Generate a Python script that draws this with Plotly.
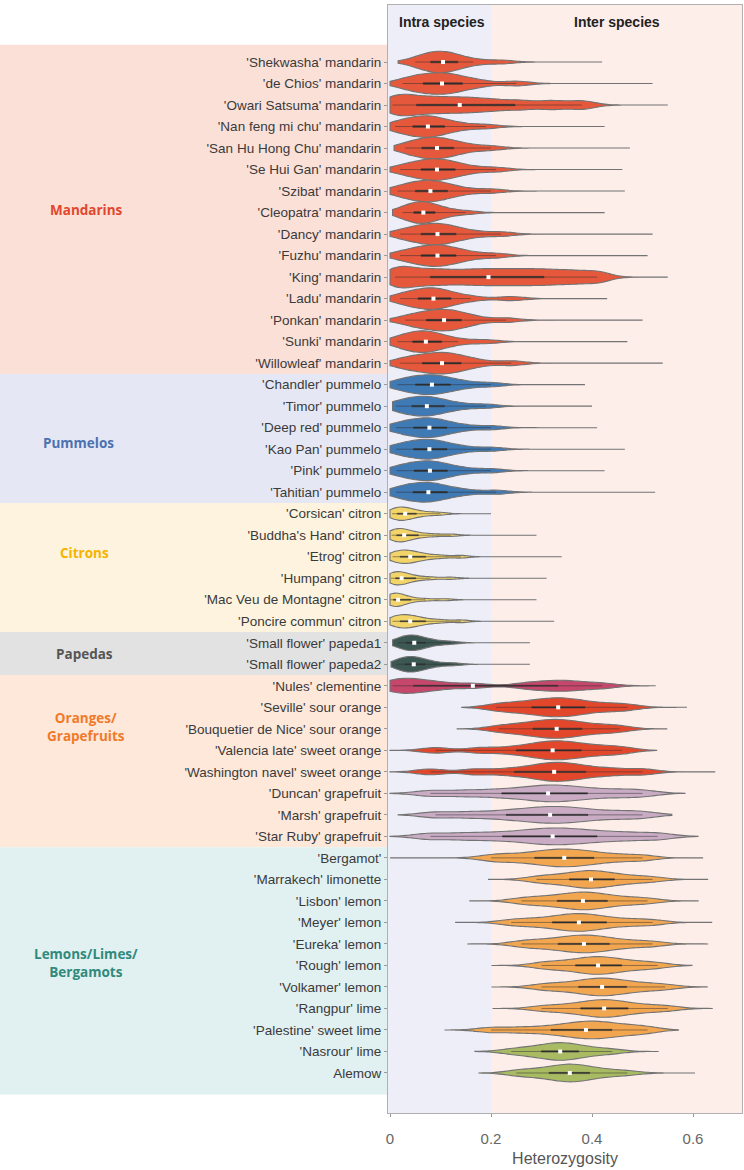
import plotly.graph_objects as go
import numpy as np

# ---------------- data ----------------
# each variety: quantile-like sample values (5%..95%) and observed range [min, max]
mandarin_names = ["'Shekwasha' mandarin", "'de Chios' mandarin", "'Owari Satsuma' mandarin",
                  "'Nan feng mi chu' mandarin", "'San Hu Hong Chu' mandarin", "'Se Hui Gan' mandarin",
                  "'Szibat' mandarin", "'Cleopatra' mandarin", "'Dancy' mandarin", "'Fuzhu' mandarin",
                  "'King' mandarin", "'Ladu' mandarin", "'Ponkan' mandarin", "'Sunki' mandarin",
                  "'Willowleaf' mandarin"]
mandarin_values = [
    [0.05, 0.065, 0.078, 0.088, 0.097, 0.105, 0.113, 0.123, 0.138, 0.165, 0.22],
    [0.025, 0.045, 0.062, 0.077, 0.09, 0.103, 0.116, 0.13, 0.148, 0.18, 0.25],
    [0.005, 0.02, 0.045, 0.075, 0.105, 0.138, 0.17, 0.21, 0.26, 0.32, 0.38],
    [0.01, 0.025, 0.042, 0.055, 0.066, 0.075, 0.085, 0.097, 0.112, 0.14, 0.19],
    [0.03, 0.045, 0.06, 0.072, 0.083, 0.093, 0.103, 0.115, 0.13, 0.155, 0.2],
    [0.02, 0.04, 0.058, 0.072, 0.083, 0.093, 0.104, 0.117, 0.133, 0.16, 0.21],
    [0.015, 0.03, 0.047, 0.06, 0.071, 0.08, 0.09, 0.102, 0.118, 0.145, 0.2],
    [0.025, 0.035, 0.045, 0.053, 0.06, 0.066, 0.073, 0.081, 0.092, 0.11, 0.15],
    [0.02, 0.04, 0.058, 0.072, 0.084, 0.094, 0.105, 0.118, 0.135, 0.165, 0.22],
    [0.02, 0.04, 0.058, 0.072, 0.084, 0.094, 0.105, 0.118, 0.135, 0.16, 0.21],
    [0.01, 0.03, 0.07, 0.11, 0.155, 0.195, 0.235, 0.275, 0.315, 0.36, 0.41],
    [0.02, 0.035, 0.052, 0.066, 0.077, 0.086, 0.096, 0.108, 0.125, 0.16, 0.24],
    [0.03, 0.05, 0.068, 0.083, 0.095, 0.107, 0.118, 0.13, 0.145, 0.17, 0.23],
    [0.015, 0.028, 0.042, 0.053, 0.062, 0.071, 0.08, 0.091, 0.106, 0.135, 0.19],
    [0.02, 0.04, 0.06, 0.076, 0.09, 0.103, 0.115, 0.128, 0.145, 0.175, 0.24],
]
mandarin_ranges = [[0.016, 0.42], [0.0, 0.52], [0.0, 0.55], [0.0, 0.425], [0.008, 0.475],
                   [0.0, 0.46], [0.0, 0.465], [0.005, 0.425], [0.0, 0.52], [0.0, 0.51],
                   [0.0, 0.55], [0.0, 0.43], [0.0, 0.5], [0.0, 0.47], [0.0, 0.54]]
mandarin_kinds = ["mandarin"] * 15

pummelo_names = ["'Chandler' pummelo", "'Timor' pummelo", "'Deep red' pummelo",
                 "'Kao Pan' pummelo", "'Pink' pummelo", "'Tahitian' pummelo"]
pummelo_values = [
    [0.015, 0.03, 0.047, 0.061, 0.072, 0.083, 0.094, 0.107, 0.124, 0.15, 0.2],
    [0.012, 0.025, 0.04, 0.053, 0.063, 0.073, 0.083, 0.095, 0.112, 0.14, 0.19],
    [0.012, 0.027, 0.043, 0.057, 0.068, 0.078, 0.088, 0.1, 0.117, 0.145, 0.2],
    [0.012, 0.027, 0.043, 0.057, 0.068, 0.078, 0.088, 0.1, 0.117, 0.145, 0.2],
    [0.013, 0.028, 0.044, 0.058, 0.069, 0.079, 0.089, 0.101, 0.118, 0.147, 0.2],
    [0.012, 0.026, 0.042, 0.056, 0.066, 0.076, 0.087, 0.1, 0.118, 0.15, 0.21],
]
pummelo_ranges = [[0.0, 0.386], [0.005, 0.40], [0.0, 0.41], [0.0, 0.465], [0.0, 0.425], [0.0, 0.525]]
pummelo_kinds = ["pummelo"] * 6

citron_names = ["'Corsican' citron", "'Buddha's Hand' citron", "'Etrog' citron",
                "'Humpang' citron", "'Mac Veu de Montagne' citron", "'Poncire commun' citron"]
citron_values = [
    [0.004, 0.008, 0.013, 0.019, 0.025, 0.03, 0.036, 0.044, 0.055, 0.075, 0.1],
    [0.003, 0.007, 0.012, 0.017, 0.022, 0.028, 0.035, 0.045, 0.06, 0.085, 0.12],
    [0.005, 0.01, 0.018, 0.026, 0.033, 0.04, 0.048, 0.058, 0.075, 0.1, 0.14],
    [0.002, 0.005, 0.01, 0.014, 0.018, 0.023, 0.03, 0.04, 0.055, 0.08, 0.12],
    [0.001, 0.003, 0.006, 0.009, 0.012, 0.016, 0.022, 0.03, 0.045, 0.07, 0.11],
    [0.005, 0.01, 0.018, 0.026, 0.033, 0.04, 0.048, 0.058, 0.075, 0.1, 0.14],
]
citron_ranges = [[0.0, 0.2], [0.0, 0.29], [0.0, 0.34], [0.0, 0.31], [0.0, 0.29], [0.0, 0.325]]
citron_kinds = ["citron"] * 6

papeda_names = ["'Small flower' papeda1", "'Small flower' papeda2"]
papeda_values = [
    [0.015, 0.022, 0.03, 0.037, 0.043, 0.048, 0.054, 0.062, 0.073, 0.09, 0.12],
    [0.012, 0.02, 0.028, 0.035, 0.041, 0.047, 0.053, 0.061, 0.072, 0.09, 0.125],
]
papeda_ranges = [[0.005, 0.277], [0.002, 0.277]]
papeda_kinds = ["papeda"] * 2

orange_names = ["'Nules' clementine", "'Seville' sour orange", "'Bouquetier de Nice' sour orange",
                "'Valencia late' sweet orange", "'Washington navel' sweet orange",
                "'Duncan' grapefruit", "'Marsh' grapefruit", "'Star Ruby' grapefruit"]
orange_values = [
    [0.005, 0.02, 0.04, 0.065, 0.1, 0.164, 0.27, 0.31, 0.34, 0.37, 0.42],
    [0.21, 0.245, 0.275, 0.298, 0.316, 0.333, 0.35, 0.368, 0.392, 0.43, 0.47],
    [0.215, 0.25, 0.278, 0.298, 0.315, 0.33, 0.346, 0.363, 0.386, 0.42, 0.455],
    [0.09, 0.18, 0.24, 0.28, 0.303, 0.322, 0.34, 0.36, 0.385, 0.42, 0.46],
    [0.08, 0.17, 0.235, 0.28, 0.305, 0.325, 0.344, 0.365, 0.395, 0.44, 0.5],
    [0.08, 0.15, 0.21, 0.255, 0.29, 0.313, 0.337, 0.365, 0.4, 0.45, 0.5],
    [0.09, 0.16, 0.22, 0.26, 0.292, 0.317, 0.34, 0.368, 0.4, 0.45, 0.5],
    [0.08, 0.15, 0.21, 0.26, 0.295, 0.322, 0.35, 0.38, 0.42, 0.47, 0.53],
]
orange_ranges = [[0.0, 0.525], [0.142, 0.588], [0.133, 0.548], [0.0, 0.528], [0.0, 0.644],
                 [0.0, 0.584], [0.016, 0.558], [0.0, 0.61]]
orange_kinds = ["clementine", "orange", "orange", "orange", "orange",
                "grapefruit", "grapefruit", "grapefruit"]

lemon_names = ["'Bergamot'", "'Marrakech' limonette", "'Lisbon' lemon", "'Meyer' lemon",
               "'Eureka' lemon", "'Rough' lemon", "'Volkamer' lemon", "'Rangpur' lime",
               "'Palestine' sweet lime", "'Nasrour' lime", "Alemow"]
lemon_values = [
    [0.2, 0.24, 0.28, 0.305, 0.326, 0.345, 0.364, 0.385, 0.41, 0.45, 0.5],
    [0.29, 0.32, 0.35, 0.37, 0.385, 0.398, 0.412, 0.428, 0.45, 0.48, 0.52],
    [0.26, 0.295, 0.325, 0.35, 0.367, 0.382, 0.397, 0.414, 0.436, 0.47, 0.51],
    [0.24, 0.28, 0.315, 0.34, 0.358, 0.374, 0.39, 0.41, 0.435, 0.475, 0.52],
    [0.26, 0.295, 0.327, 0.35, 0.368, 0.384, 0.4, 0.418, 0.44, 0.475, 0.52],
    [0.3, 0.33, 0.362, 0.383, 0.398, 0.412, 0.426, 0.443, 0.464, 0.495, 0.53],
    [0.3, 0.335, 0.368, 0.39, 0.405, 0.42, 0.435, 0.452, 0.474, 0.505, 0.545],
    [0.3, 0.34, 0.372, 0.394, 0.41, 0.424, 0.438, 0.455, 0.477, 0.51, 0.55],
    [0.2, 0.26, 0.31, 0.345, 0.368, 0.388, 0.405, 0.423, 0.445, 0.475, 0.51],
    [0.24, 0.27, 0.295, 0.313, 0.326, 0.337, 0.348, 0.361, 0.378, 0.405, 0.44],
    [0.25, 0.28, 0.31, 0.33, 0.344, 0.356, 0.368, 0.382, 0.4, 0.43, 0.47],
]
lemon_ranges = [[0.0, 0.62], [0.195, 0.63], [0.158, 0.61], [0.129, 0.638], [0.153, 0.63],
                [0.202, 0.598], [0.202, 0.628], [0.204, 0.638], [0.109, 0.571],
                [0.168, 0.531], [0.176, 0.604]]
lemon_kinds = ["lemon"] * 9 + ["lime", "lime"]

group_labels = ["Mandarins", "Pummelos", "Citrons", "Papedas",
                "Oranges/<br>Grapefruits", "Lemons/Limes/<br>Bergamots"]
x_tick_vals = [0, 0.2, 0.4, 0.6]
x_tick_text = ["0", "0.2", "0.4", "0.6"]
x_title = "Heterozygosity"
header_left = "Intra species"
header_right = "Inter species"

# ---------------- styles ----------------
kind_color = {"mandarin": "#e5583b", "pummelo": "#3f7ab5", "citron": "#f2d469",
              "papeda": "#3d5852", "clementine": "#c5476b", "orange": "#e3472b",
              "grapefruit": "#c9abc4", "lemon": "#f3a650", "lime": "#a8bb63"}
kind_width = {"mandarin": 1.0, "pummelo": 0.92, "citron": 0.62, "papeda": 0.72,
              "clementine": 0.7, "orange": 0.88, "grapefruit": 0.78, "lemon": 0.82, "lime": 0.82}
kind_bw = {"mandarin": 0.026, "pummelo": 0.025, "citron": 0.016, "papeda": 0.018,
           "clementine": 0.03, "orange": 0.028, "grapefruit": 0.032, "lemon": 0.028, "lime": 0.028}
group_label_color = ["#e0472c", "#4b72b0", "#f5b400", "#555555", "#f07a2a", "#2f8a7c"]
group_band_color = ["#fbe0d8", "#e5e8f4", "#fdf3de", "#e2e2e2", "#fde8da", "#e1f0f1"]

all_names = mandarin_names + pummelo_names + citron_names + papeda_names + orange_names + lemon_names
all_values = mandarin_values + pummelo_values + citron_values + papeda_values + orange_values + lemon_values
all_ranges = mandarin_ranges + pummelo_ranges + citron_ranges + papeda_ranges + orange_ranges + lemon_ranges
all_kinds = mandarin_kinds + pummelo_kinds + citron_kinds + papeda_kinds + orange_kinds + lemon_kinds
group_sizes = [len(mandarin_names), len(pummelo_names), len(citron_names),
               len(papeda_names), len(orange_names), len(lemon_names)]

W, H = 744, 1170
ML, MR, MT, MB = 388, 2, 5, 57
plot_w = W - ML - MR
n = len(all_names)
y_top, y_bot = -2.65, n - 1 + 1.86


def px_to_paper_x(px):
    return (px - ML) / plot_w


fig = go.Figure()

for i, (name, vals, rng, kind) in enumerate(zip(all_names, all_values, all_ranges, all_kinds)):
    fig.add_trace(go.Violin(
        x=vals, y=[i] * len(vals), orientation="h", name=name,
        fillcolor=kind_color[kind], opacity=1,
        line=dict(color="#737373", width=1.1),
        width=kind_width[kind], scalemode="width", spanmode="manual", span=rng,
        bandwidth=kind_bw[kind], points=False,
        box=dict(visible=True, width=0.07, fillcolor="#2e2e2e",
                 line=dict(color="#2e2e2e", width=0.5)),
        meanline=dict(visible=False), hoverinfo="skip", showlegend=False,
    ))

medians = [float(np.median(v)) for v in all_values]
fig.add_trace(go.Scatter(
    x=medians, y=list(range(n)), mode="markers",
    marker=dict(symbol="square", size=4, color="white", line=dict(width=0)),
    hoverinfo="skip", showlegend=False,
))

shapes = []
shapes.append(dict(type="rect", xref="x", yref="paper", x0=-0.01, x1=0.2, y0=0, y1=1,
                   fillcolor="#eeeef8", line=dict(width=0), layer="below"))
shapes.append(dict(type="rect", xref="x", yref="paper", x0=0.2, x1=0.71, y0=0, y1=1,
                   fillcolor="#fdeeea", line=dict(width=0), layer="below"))

start = 0
band_x0 = px_to_paper_x(0)
for g, size in enumerate(group_sizes):
    top = start - 0.5 if g > 0 else -0.8
    bot = start + size - 0.5 if g < len(group_sizes) - 1 else start + size
    shapes.append(dict(type="rect", xref="paper", yref="y", x0=band_x0, x1=0,
                       y0=top, y1=bot, fillcolor=group_band_color[g],
                       line=dict(width=0), layer="below"))
    start += size

annotations = []
label_px = [86, 78, 84, 84, 86, 86]
label_y = [6.88, 17.7, 22.84, 27.5, 30.9, 41.9]
for g in range(len(group_labels)):
    annotations.append(dict(
        text="<b>" + group_labels[g] + "</b>", xref="paper", yref="y",
        x=px_to_paper_x(label_px[g]), y=label_y[g], showarrow=False,
        xanchor="center", yanchor="middle", align="center",
        font=dict(family="Open Sans", size=13.5, color=group_label_color[g]),
    ))

annotations.append(dict(text="<b>" + header_left + "</b>", xref="x", yref="paper", x=0.013, y=0.985,
                        showarrow=False, xanchor="left", yanchor="middle",
                        font=dict(family="Liberation Sans", size=14, color="#222222")))
annotations.append(dict(text="<b>" + header_right + "</b>", xref="x", yref="paper", x=0.45, y=0.985,
                        showarrow=False, xanchor="center", yanchor="middle",
                        font=dict(family="Liberation Sans", size=14, color="#222222")))

fig.update_layout(
    width=W, height=H, margin=dict(l=ML, r=MR, t=MT, b=MB, autoexpand=False),
    paper_bgcolor="white", plot_bgcolor="white",
    violinmode="overlay", shapes=shapes, annotations=annotations,
    font=dict(family="Liberation Sans", size=13, color="#3a3a3a"),
)
fig.update_xaxes(range=[-0.004, 0.697], tickvals=x_tick_vals, ticktext=x_tick_text,
                 showgrid=False, zeroline=False, showline=True, mirror=True,
                 linecolor="#b0b0b0", linewidth=1, ticks="outside", ticklen=3,
                 tickcolor="#999999", tickfont=dict(size=15, color="#666666"),
                 ticklabelstandoff=9,
                 title=dict(text=x_title, font=dict(size=16, color="#555555"), standoff=6))
fig.update_yaxes(range=[y_bot, y_top], tickvals=list(range(n)), ticktext=all_names,
                 showgrid=False, zeroline=False, showline=True, mirror=True,
                 linecolor="#b0b0b0", linewidth=1, ticks="outside", ticklen=3,
                 tickcolor="#999999", tickfont=dict(size=13.5, color="#3a3a3a"))

fig.write_html("out.html", config={"displayModeBar": False},
               post_script="document.body.style.margin='0';")
